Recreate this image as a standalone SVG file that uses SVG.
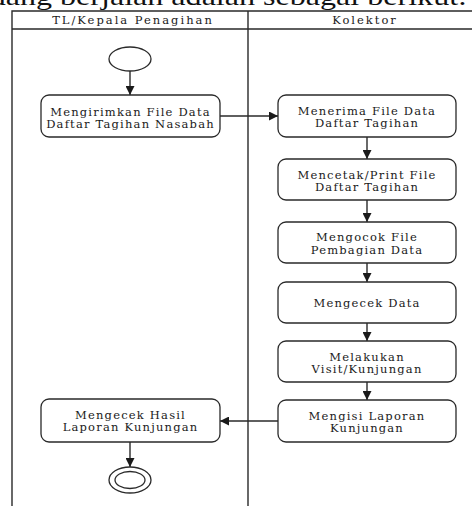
<svg xmlns="http://www.w3.org/2000/svg" width="472" height="506" viewBox="0 0 472 506">
  <style>
    .lane { stroke: #2a2a2a; stroke-width: 1.4; fill: none; }
    .box { fill: #ffffff; stroke: #2a2a2a; stroke-width: 1.3; }
    .lbl { font-family: "DejaVu Serif", "Liberation Serif", serif; font-size: 11.5px; letter-spacing: 1.2px; fill: #1a1a1a; text-anchor: middle; }
    .hdr { font-family: "DejaVu Serif", "Liberation Serif", serif; font-size: 11.5px; letter-spacing: 2px; fill: #1a1a1a; text-anchor: middle; }
    .edge { stroke: #2a2a2a; stroke-width: 1.4; fill: none; marker-end: url(#arrow); }
  </style>
  <defs>
    <marker id="arrow" viewBox="0 0 10 10" refX="10" refY="5" markerWidth="9" markerHeight="9" markerUnits="userSpaceOnUse" orient="auto">
      <path d="M0,0 L10,5 L0,10 z" fill="#1a1a1a"/>
    </marker>
  </defs>
  <rect width="472" height="506" fill="#ffffff"/>

  <!-- preceding paragraph line, cut by the page edge -->
  <text x="-37" y="5" font-family="Liberation Serif, serif" font-size="26" textLength="504" lengthAdjust="spacingAndGlyphs" fill="#111">sedang berjalan adalah sebagai berikut:</text>

  <!-- swimlanes -->
  <g id="swimlanes">
    <path class="lane" d="M472,11 H12 V506 M12,29 H472 M248,11 V506"/>
    <text class="hdr" x="133" y="24">TL/Kepala Penagihan</text>
    <text class="hdr" x="365" y="24">Kolektor</text>
  </g>

  <!-- connectors -->
  <g id="connectors">
    <path class="edge" d="M130,71 V95"/>
    <path class="edge" d="M220,116 H278"/>
    <path class="edge" d="M367,137 V159"/>
    <path class="edge" d="M367,200 V222"/>
    <path class="edge" d="M367,263 V282"/>
    <path class="edge" d="M367,323 V341"/>
    <path class="edge" d="M367,382 V400"/>
    <path class="edge" d="M278,421 H220"/>
    <path class="edge" d="M130,442 V467"/>
  </g>

  <g id="start">
    <ellipse cx="130" cy="59" rx="21" ry="12" fill="#fff" stroke="#2a2a2a" stroke-width="1.3"/>
  </g>

  <g id="kirim-file">
    <rect class="box" x="41" y="95" width="179" height="42" rx="8"/>
    <text class="lbl" x="130.5" y="116">Mengirimkan File Data</text>
    <text class="lbl" x="130.5" y="128">Daftar Tagihan Nasabah</text>
  </g>

  <g id="terima-file">
    <rect class="box" x="278" y="95" width="178" height="42" rx="8"/>
    <text class="lbl" x="367" y="115">Menerima File Data</text>
    <text class="lbl" x="367" y="127">Daftar Tagihan</text>
  </g>

  <g id="cetak-file">
    <rect class="box" x="278" y="159" width="178" height="41" rx="8"/>
    <text class="lbl" x="367" y="179">Mencetak/Print File</text>
    <text class="lbl" x="367" y="191">Daftar Tagihan</text>
  </g>

  <g id="kocok-file">
    <rect class="box" x="278" y="222" width="178" height="41" rx="8"/>
    <text class="lbl" x="367" y="241">Mengocok File</text>
    <text class="lbl" x="367" y="254">Pembagian Data</text>
  </g>

  <g id="cek-data">
    <rect class="box" x="278" y="282" width="178" height="41" rx="8"/>
    <text class="lbl" x="367" y="307">Mengecek Data</text>
  </g>

  <g id="kunjungan">
    <rect class="box" x="278" y="341" width="178" height="41" rx="8"/>
    <text class="lbl" x="367" y="361">Melakukan</text>
    <text class="lbl" x="367" y="373">Visit/Kunjungan</text>
  </g>

  <g id="isi-laporan">
    <rect class="box" x="278" y="400" width="178" height="42" rx="8"/>
    <text class="lbl" x="367" y="420">Mengisi Laporan</text>
    <text class="lbl" x="367" y="432">Kunjungan</text>
  </g>

  <g id="cek-hasil">
    <rect class="box" x="41" y="399" width="179" height="43" rx="8"/>
    <text class="lbl" x="130.5" y="419">Mengecek Hasil</text>
    <text class="lbl" x="130.5" y="431">Laporan Kunjungan</text>
  </g>

  <g id="end">
    <ellipse cx="130" cy="480" rx="21" ry="13" fill="#fff" stroke="#2a2a2a" stroke-width="1.3"/>
    <ellipse cx="130" cy="480" rx="15" ry="8.5" fill="#fff" stroke="#2a2a2a" stroke-width="1.3"/>
  </g>
</svg>
